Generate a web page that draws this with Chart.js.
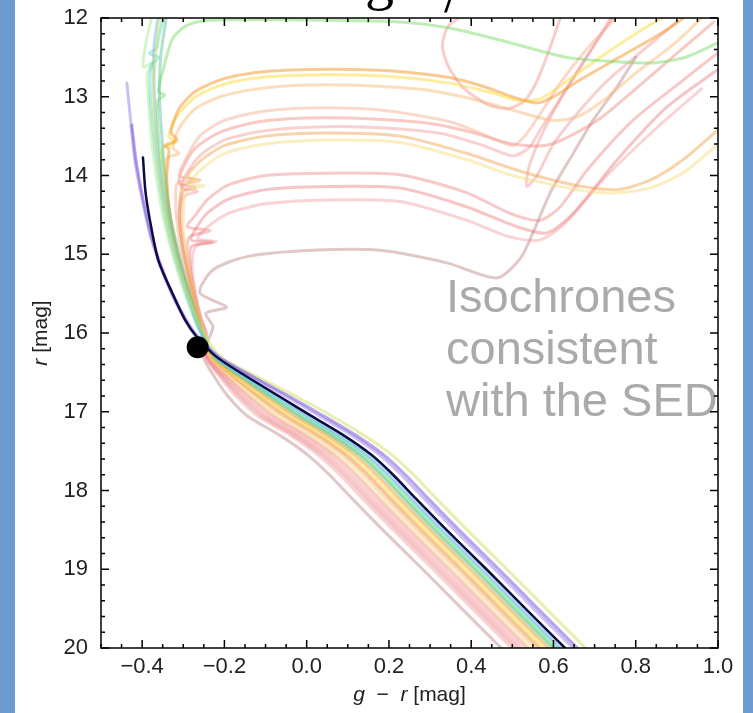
<!DOCTYPE html>
<html>
<head>
<meta charset="utf-8">
<script src="https://cdn.jsdelivr.net/npm/chart.js@4.4.1/dist/chart.umd.min.js"></script>
<style>
  html, body { margin: 0; padding: 0; background: #fff; }
  body { width: 753px; height: 713px; position: relative; overflow: hidden; }
  #cmd { position: absolute; left: 0; top: 0; }
  .band { position: absolute; top: 0; height: 713px; background: #6b9bd1; }
</style>
</head>
<body>
<canvas id="cmd" width="753" height="713"></canvas>
<div class="band" style="left:0;width:15px"></div>
<div class="band" style="left:743px;width:10px"></div>
<script>
// isochrones as [g-r, r] pairs
const navy = [[-0.398,13.77],[-0.392,14.2],[-0.381,14.57],[-0.361,15.07],[-0.327,15.49],[-0.296,15.83],[-0.267,16.05],
  [-0.22,16.3],[-0.147,16.55],[-0.068,16.8],[0.01,17.05],[0.09,17.3],[0.158,17.55],[0.21,17.8],[0.265,18.1],[0.34,18.5],[0.437,19.0],[0.532,19.5],[0.628,20.0]];
const lavender = [[-0.437,12.83],[-0.428,13.3],[-0.418,13.8],[-0.4,14.3],[-0.378,14.8],[-0.345,15.3],[-0.31,15.7],[-0.275,16.0],
  [-0.216,16.3],[-0.137,16.55],[-0.052,16.8],[0.03,17.05],[0.11,17.3],[0.178,17.55],[0.23,17.8],[0.285,18.1],[0.36,18.5],[0.457,19.0],[0.552,19.5],[0.648,20.0]];
const purple = [[-0.425,13.36],[-0.415,13.8],[-0.398,14.3],[-0.376,14.8],[-0.343,15.3],[-0.307,15.7],[-0.272,16.0],
  [-0.214,16.3],[-0.132,16.55],[-0.044,16.8],[0.04,17.05],[0.12,17.3],[0.188,17.55],[0.24,17.8],[0.295,18.1],[0.37,18.5],[0.467,19.0],[0.562,19.5],[0.658,20.0]];
const yellowGreen = [[-0.355,11.95],[-0.368,12.5],[-0.373,13.0],[-0.368,13.5],[-0.358,14.0],[-0.343,14.5],[-0.32,15.0],[-0.29,15.5],[-0.255,15.95],
  [-0.21,16.3],[-0.122,16.55],[-0.028,16.8],[0.06,17.05],[0.14,17.3],[0.208,17.55],[0.26,17.8],[0.315,18.1],[0.39,18.5],[0.487,19.0],[0.582,19.5],[0.678,20.0]];
const blue = [[-0.36,11.95],[-0.37,12.3],[-0.372,12.6],[-0.37,13.0],[-0.365,13.5],[-0.355,14.0],[-0.34,14.5],[-0.318,15.0],[-0.29,15.5],[-0.26,15.95],
  [-0.222,16.3],[-0.152,16.55],[-0.076,16.8],[0.0,17.05],[0.08,17.3],[0.148,17.55],[0.2,17.8],[0.255,18.1],[0.33,18.5],[0.427,19.0],[0.522,19.5],[0.618,20.0]];
const cyan = [[-0.345,11.95],[-0.36,12.25],[-0.365,12.38],[-0.382,12.45],[-0.36,12.5],[-0.378,12.6],[-0.38,13.0],[-0.372,13.5],[-0.36,14.0],[-0.345,14.5],[-0.322,15.0],[-0.293,15.5],[-0.262,15.95],
  [-0.223,16.3],[-0.155,16.55],[-0.08,16.8],[-0.005,17.05],[0.075,17.3],[0.143,17.55],[0.195,17.8],[0.25,18.1],[0.325,18.5],[0.422,19.0],[0.517,19.5],[0.613,20.0]];
const lightGreen = [[-0.375,11.95],[-0.39,12.3],[-0.397,12.62],[-0.37,12.55],[-0.387,12.7],[-0.385,13.0],[-0.378,13.5],[-0.366,14.0],[-0.35,14.5],[-0.326,15.0],[-0.296,15.5],[-0.263,15.95],
  [-0.224,16.3],[-0.157,16.55],[-0.084,16.8],[-0.01,17.05],[0.07,17.3],[0.138,17.55],[0.19,17.8],[0.245,18.1],[0.32,18.5],[0.417,19.0],[0.512,19.5],[0.608,20.0]];
const green = [[0.998,12.32],[0.92,12.5],[0.842,12.57],[0.74,12.55],[0.633,12.5],[0.47,12.28],[0.35,12.13],[0.227,12.05],[0.05,12.03],[-0.1,12.02],[-0.235,12.03],[-0.29,12.09],[-0.325,12.25],[-0.344,12.56],[-0.36,12.94],[-0.345,12.98],[-0.362,13.05],[-0.36,13.5],[-0.352,14.0],[-0.338,14.5],[-0.315,15.0],[-0.288,15.5],[-0.258,15.95],
  [-0.225,16.3],[-0.16,16.55],[-0.088,16.8],[-0.015,17.05],[0.065,17.3],[0.133,17.55],[0.185,17.8],[0.24,18.1],[0.315,18.5],[0.412,19.0],[0.507,19.5],[0.603,20.0]];
const teal = [[-0.34,11.95],[-0.355,12.5],[-0.358,13.0],[-0.352,13.5],[-0.345,14.0],[-0.332,14.5],[-0.31,15.0],[-0.284,15.5],[-0.256,15.95],
  [-0.226,16.3],[-0.162,16.55],[-0.092,16.8],[-0.02,17.05],[0.06,17.3],[0.128,17.55],[0.18,17.8],[0.235,18.1],[0.31,18.5],[0.407,19.0],[0.502,19.5],[0.598,20.0]];
const orange1 = [[0.93,11.95],[0.86,12.2],[0.76,12.5],[0.66,12.8],[0.6,13.0],[0.56,13.08],[0.5,13.0],[0.43,12.87],[0.35,12.76],[0.2,12.67],[0.05,12.65],[-0.1,12.68],[-0.2,12.77],[-0.27,12.93],[-0.31,13.15],[-0.33,13.45],[-0.315,13.55],[-0.345,13.62],[-0.335,13.66],[-0.34,14.0],[-0.335,14.4],[-0.322,14.8],[-0.303,15.2],[-0.28,15.6],[-0.258,15.95],
  [-0.228,16.3],[-0.167,16.55],[-0.1,16.8],[-0.03,17.05],[0.05,17.3],[0.118,17.55],[0.17,17.8],[0.225,18.1],[0.3,18.5],[0.397,19.0],[0.492,19.5],[0.588,20.0]];
const yellow1 = [[0.88,11.95],[0.8,12.2],[0.7,12.55],[0.62,12.85],[0.57,13.02],[0.52,13.05],[0.45,12.95],[0.35,12.83],[0.2,12.74],[0.05,12.72],[-0.1,12.75],[-0.2,12.84],[-0.27,13.0],[-0.315,13.25],[-0.335,13.5],[-0.32,13.58],[-0.35,13.66],[-0.345,14.0],[-0.338,14.4],[-0.325,14.8],[-0.305,15.2],[-0.282,15.6],[-0.26,15.95],
  [-0.23,16.3],[-0.172,16.55],[-0.108,16.8],[-0.04,17.05],[0.04,17.3],[0.108,17.55],[0.16,17.8],[0.215,18.1],[0.29,18.5],[0.387,19.0],[0.482,19.5],[0.578,20.0]];
const peach1 = [[0.97,11.95],[0.9,12.3],[0.8,12.7],[0.72,13.05],[0.66,13.25],[0.6,13.3],[0.52,13.2],[0.42,13.05],[0.3,12.92],[0.15,12.86],[0.0,12.85],[-0.12,12.9],[-0.21,13.0],[-0.27,13.15],[-0.31,13.4],[-0.325,13.65],[-0.31,13.72],[-0.34,13.78],[-0.34,14.1],[-0.332,14.5],[-0.318,14.9],[-0.298,15.3],[-0.275,15.65],[-0.257,15.95],
  [-0.232,16.3],[-0.177,16.55],[-0.116,16.8],[-0.05,17.05],[0.03,17.3],[0.098,17.55],[0.15,17.8],[0.205,18.1],[0.28,18.5],[0.377,19.0],[0.472,19.5],[0.568,20.0]];
const peach2 = [[0.76,11.95],[0.68,12.4],[0.62,12.8],[0.57,13.2],[0.53,13.5],[0.5,13.62],[0.44,13.5],[0.35,13.32],[0.2,13.18],[0.05,13.14],[-0.1,13.18],[-0.2,13.3],[-0.26,13.5],[-0.295,13.8],[-0.31,14.0],[-0.28,14.05],[-0.315,14.1],[-0.318,14.4],[-0.31,14.8],[-0.295,15.2],[-0.275,15.6],[-0.256,15.95],
  [-0.234,16.3],[-0.182,16.55],[-0.124,16.8],[-0.06,17.05],[0.02,17.3],[0.088,17.55],[0.14,17.8],[0.195,18.1],[0.27,18.5],[0.367,19.0],[0.462,19.5],[0.558,20.0]];
const pink1 = [[0.99,12.05],[0.9,12.45],[0.8,12.9],[0.72,13.25],[0.64,13.5],[0.58,13.62],[0.5,13.6],[0.4,13.45],[0.3,13.34],[0.15,13.28],[0.0,13.27],[-0.12,13.32],[-0.21,13.45],[-0.27,13.65],[-0.3,13.9],[-0.31,14.1],[-0.27,14.15],[-0.3,14.2],[-0.31,14.5],[-0.302,14.9],[-0.287,15.3],[-0.27,15.65],[-0.255,15.95],
  [-0.238,16.3],[-0.192,16.55],[-0.14,16.8],[-0.08,17.05],[0.0,17.3],[0.068,17.55],[0.12,17.8],[0.175,18.1],[0.25,18.5],[0.347,19.0],[0.442,19.5],[0.538,20.0]];
const pink2 = [[0.745,11.95],[0.68,12.5],[0.62,13.0],[0.57,13.4],[0.54,13.65],[0.5,13.75],[0.43,13.62],[0.33,13.47],[0.2,13.4],[0.05,13.38],[-0.1,13.43],[-0.2,13.55],[-0.26,13.75],[-0.295,14.0],[-0.305,14.15],[-0.265,14.2],[-0.3,14.27],[-0.305,14.6],[-0.295,15.0],[-0.28,15.4],[-0.262,15.75],[-0.25,15.98],
  [-0.24,16.3],[-0.197,16.55],[-0.148,16.8],[-0.09,17.05],[-0.01,17.3],[0.058,17.55],[0.11,17.8],[0.165,18.1],[0.24,18.5],[0.337,19.0],[0.432,19.5],[0.528,20.0]];
const orange2 = [[1.0,13.42],[0.915,13.8],[0.835,14.06],[0.755,14.18],[0.67,14.14],[0.6,14.06],[0.51,13.93],[0.39,13.72],[0.227,13.5],[0.05,13.46],[-0.1,13.5],[-0.2,13.62],[-0.26,13.82],[-0.29,14.02],[-0.26,14.06],[-0.3,14.12],[-0.31,14.5],[-0.302,14.9],[-0.285,15.3],[-0.268,15.65],[-0.256,15.95],
  [-0.233,16.3],[-0.179,16.55],[-0.118,16.8],[-0.052,17.05],[0.028,17.3],[0.096,17.55],[0.148,17.8],[0.203,18.1],[0.278,18.5],[0.375,19.0],[0.47,19.5],[0.566,20.0]];
const paleYellow = [[1.0,13.6],[0.92,13.95],[0.84,14.15],[0.76,14.22],[0.68,14.2],[0.6,14.12],[0.5,14.0],[0.39,13.8],[0.227,13.58],[0.05,13.55],[-0.1,13.6],[-0.2,13.72],[-0.255,13.92],[-0.285,14.1],[-0.25,14.13],[-0.29,14.2],[-0.3,14.6],[-0.292,15.0],[-0.278,15.4],[-0.262,15.75],[-0.25,15.98],
  [-0.236,16.3],[-0.187,16.55],[-0.132,16.8],[-0.07,17.05],[0.01,17.3],[0.078,17.55],[0.13,17.8],[0.185,18.1],[0.26,18.5],[0.357,19.0],[0.452,19.5],[0.548,20.0]];
const red1 = [[0.998,12.45],[0.915,12.79],[0.793,13.3],[0.682,13.93],[0.616,14.4],[0.567,14.57],[0.494,14.48],[0.39,14.22],[0.227,13.99],[0.05,13.97],[-0.1,14.0],[-0.19,14.12],[-0.24,14.3],[-0.27,14.5],[-0.29,14.65],[-0.235,14.7],[-0.285,14.78],[-0.29,15.0],[-0.28,15.35],[-0.265,15.7],[-0.25,15.98],
  [-0.242,16.3],[-0.202,16.55],[-0.156,16.8],[-0.1,17.05],[-0.02,17.3],[0.048,17.55],[0.1,17.8],[0.155,18.1],[0.23,18.5],[0.327,19.0],[0.422,19.5],[0.518,20.0]];
const red2 = [[0.998,12.66],[0.876,13.13],[0.755,13.8],[0.648,14.48],[0.584,14.73],[0.511,14.65],[0.39,14.4],[0.227,14.16],[0.05,14.14],[-0.1,14.18],[-0.19,14.3],[-0.24,14.47],[-0.27,14.68],[-0.28,14.82],[-0.23,14.85],[-0.28,14.9],[-0.283,15.15],[-0.272,15.5],[-0.258,15.8],[-0.245,16.0],
  [-0.244,16.3],[-0.207,16.55],[-0.164,16.8],[-0.11,17.05],[-0.03,17.3],[0.038,17.55],[0.09,17.8],[0.145,18.1],[0.22,18.5],[0.317,19.0],[0.412,19.5],[0.508,20.0]];
const pink3 = [[0.96,12.9],[0.85,13.4],[0.73,14.0],[0.63,14.6],[0.567,14.82],[0.494,14.78],[0.39,14.57],[0.227,14.33],[0.05,14.31],[-0.1,14.36],[-0.19,14.48],[-0.24,14.65],[-0.265,14.8],[-0.22,14.84],[-0.27,14.9],[-0.278,15.2],[-0.268,15.55],[-0.255,15.85],[-0.244,16.0],
  [-0.246,16.3],[-0.212,16.55],[-0.172,16.8],[-0.12,17.05],[-0.04,17.3],[0.028,17.55],[0.08,17.8],[0.135,18.1],[0.21,18.5],[0.307,19.0],[0.402,19.5],[0.498,20.0]];
const rosyBrown = [[0.8,12.5],[0.755,12.87],[0.696,13.3],[0.648,13.72],[0.592,14.22],[0.55,14.73],[0.52,15.05],[0.463,15.3],[0.341,15.11],[0.178,14.95],[0.015,14.95],[-0.145,15.03],[-0.228,15.2],[-0.26,15.49],[-0.195,15.67],[-0.245,15.75],[-0.228,15.92],[-0.24,16.1],
  [-0.251,16.3],[-0.225,16.55],[-0.192,16.8],[-0.145,17.05],[-0.065,17.3],[0.003,17.55],[0.055,17.8],[0.11,18.1],[0.185,18.5],[0.282,19.0],[0.377,19.5],[0.473,20.0]];
const loopA = [[0.4,11.9],[0.345,12.1],[0.33,12.35],[0.345,12.62],[0.38,12.88],[0.44,13.1],[0.49,13.15],[0.53,13.05],[0.56,12.8],[0.59,12.4],[0.62,11.95]];
const loopB = [[0.75,11.95],[0.68,12.5],[0.62,13.0],[0.57,13.5],[0.54,13.9],[0.535,14.14],[0.56,14.0],[0.6,13.6],[0.66,13.2],[0.73,12.8],[0.82,12.4],[0.9,12.05]];

// the star
const starPoint = [[-0.265, 16.18]];

const xTickValues = [-0.4, -0.2, 0.0, 0.2, 0.4, 0.6, 0.8, 1.0];
const yTickValues = [12, 13, 14, 15, 16, 17, 18, 19, 20];
const noteLines = ['Isochrones', 'consistent', 'with the SED'];

// drawing order: first in list is painted last (on top)
const lineSeries = [navy, purple, lavender, yellowGreen, blue, cyan, teal, lightGreen, green, orange1, yellow1, peach1,
  orange2, paleYellow, peach2, pink1, pink2, red1, red2, pink3, rosyBrown, loopA, loopB];
const lineColors = ['rgba(14,10,66,1)', 'rgba(130,90,215,0.55)', 'rgba(150,130,232,0.5)', 'rgba(205,228,95,0.5)',
  'rgba(120,180,240,0.5)', 'rgba(100,222,215,0.5)', 'rgba(80,190,150,0.45)', 'rgba(170,235,150,0.5)', 'rgba(125,220,110,0.5)',
  'rgba(245,150,40,0.5)', 'rgba(250,222,60,0.5)', 'rgba(248,180,110,0.45)', 'rgba(240,160,70,0.45)', 'rgba(248,222,130,0.5)',
  'rgba(245,170,140,0.45)', 'rgba(240,120,110,0.4)', 'rgba(240,140,140,0.4)', 'rgba(235,100,100,0.35)', 'rgba(230,90,90,0.35)',
  'rgba(240,130,140,0.35)', 'rgba(190,130,130,0.45)', 'rgba(240,110,110,0.35)', 'rgba(235,120,120,0.35)'];

const sans = '"Liberation Sans", Arial, sans-serif';
const near = (a, b) => Math.abs(a - b) < 1e-6;
const minus = v => v.toFixed(1).replace('-', '\u2212');

const datasets = [{
  data: starPoint.map(p => ({x: p[0], y: p[1]})),
  pointRadius: 11, pointBackgroundColor: '#000', pointBorderWidth: 0, showLine: false
}];
lineSeries.forEach((s, i) => {
  datasets.push({
    data: s.map(p => ({x: p[0], y: p[1]})),
    showLine: true, pointRadius: 0, borderColor: lineColors[i],
    borderWidth: i === 0 ? 2.5 : 3, tension: 0.25, clip: 0,
    borderCapStyle: 'round', borderJoinStyle: 'round'
  });
});

const framePlugin = {
  id: 'frame',
  afterDatasetsDraw(chart) {
    const ctx = chart.ctx;
    ctx.save();
    ctx.fillStyle = '#aaaaaa';
    ctx.font = '47px ' + sans;
    ctx.textAlign = 'left';
    ctx.textBaseline = 'alphabetic';
    noteLines.forEach((t, i) => ctx.fillText(t, 446, 312 + i * 52));
    ctx.restore();
  },
  afterDraw(chart) {
    const {ctx, chartArea: a, scales: {x, y}} = chart;
    ctx.save();
    ctx.strokeStyle = '#000';
    ctx.lineWidth = 1.5;
    ctx.strokeRect(a.left, a.top, a.right - a.left, a.bottom - a.top);
    ctx.beginPath();
    x.ticks.forEach(t => {
      const px = x.getPixelForValue(t.value);
      const len = xTickValues.some(v => near(v, t.value)) ? 8 : 4;
      ctx.moveTo(px, a.bottom); ctx.lineTo(px, a.bottom - len);
      ctx.moveTo(px, a.top); ctx.lineTo(px, a.top + len);
    });
    y.ticks.forEach(t => {
      const py = y.getPixelForValue(t.value);
      const len = yTickValues.some(v => near(v, t.value)) ? 8 : 4;
      ctx.moveTo(a.left, py); ctx.lineTo(a.left + len, py);
      ctx.moveTo(a.right, py); ctx.lineTo(a.right - len, py);
    });
    ctx.stroke();

    // axis titles with italic symbols
    ctx.fillStyle = '#222';
    ctx.textAlign = 'left';
    ctx.textBaseline = 'alphabetic';
    const parts = [['italic 21px ' + sans, 'g'], ['21px ' + sans, '  \u2212  '], ['italic 21px ' + sans, 'r'], ['21px ' + sans, ' [mag]']];
    let w = 0;
    parts.forEach(p => { ctx.font = p[0]; w += ctx.measureText(p[1]).width; });
    let cx = (a.left + a.right) / 2 - w / 2;
    parts.forEach(p => { ctx.font = p[0]; ctx.fillText(p[1], cx, 701); cx += ctx.measureText(p[1]).width; });

    ctx.translate(47, (a.top + a.bottom) / 2);
    ctx.rotate(-Math.PI / 2);
    const yparts = [['italic 21px ' + sans, 'r'], ['21px ' + sans, ' [mag]']];
    w = 0;
    yparts.forEach(p => { ctx.font = p[0]; w += ctx.measureText(p[1]).width; });
    cx = -w / 2;
    yparts.forEach(p => { ctx.font = p[0]; ctx.fillText(p[1], cx, 0); cx += ctx.measureText(p[1]).width; });
    ctx.restore();

    // top of the slide title, cut off by the page edge
    ctx.save();
    ctx.fillStyle = '#000';
    ctx.textAlign = 'left';
    ctx.textBaseline = 'alphabetic';
    ctx.font = '58px "Liberation Serif", serif';
    ctx.fillText('log', 320, -1);
    ctx.fillText('/', 444, 12);
    ctx.fillText('dex', 478, -1);
    ctx.restore();
  }
};

new Chart(document.getElementById('cmd'), {
  type: 'scatter',
  data: { datasets },
  options: {
    responsive: false,
    devicePixelRatio: 1,
    animation: false,
    layout: { padding: { top: 18, right: 35, left: 0, bottom: 0 } },
    plugins: { legend: { display: false }, tooltip: { enabled: false } },
    scales: {
      x: {
        type: 'linear', min: -0.5, max: 1.0,
        grid: { display: false, drawTicks: false }, border: { display: false },
        afterBuildTicks: s => {
          const t = [];
          for (let i = -10; i <= 20; i++) t.push({ value: Math.round(i * 5) / 100 });
          s.ticks = t;
        },
        afterFit: s => { s.height = 65; s.paddingLeft = 0; s.paddingRight = 0; },
        ticks: {
          autoSkip: false, maxRotation: 0, padding: 6, color: '#222',
          font: { family: sans, size: 22 },
          callback: v => xTickValues.some(m => near(m, v)) ? minus(v) : ''
        }
      },
      y: {
        type: 'linear', reverse: true, min: 12, max: 20,
        grid: { display: false, drawTicks: false }, border: { display: false },
        afterBuildTicks: s => {
          const t = [];
          for (let i = 60; i <= 100; i++) t.push({ value: i / 5 });
          s.ticks = t;
        },
        afterFit: s => { s.width = 101; s.paddingTop = 0; s.paddingBottom = 0; },
        ticks: {
          autoSkip: false, padding: 13, color: '#222',
          font: { family: sans, size: 22 },
          callback: v => yTickValues.some(m => near(m, v)) ? String(v) : ''
        }
      }
    }
  },
  plugins: [framePlugin]
});
</script>
</body>
</html>
